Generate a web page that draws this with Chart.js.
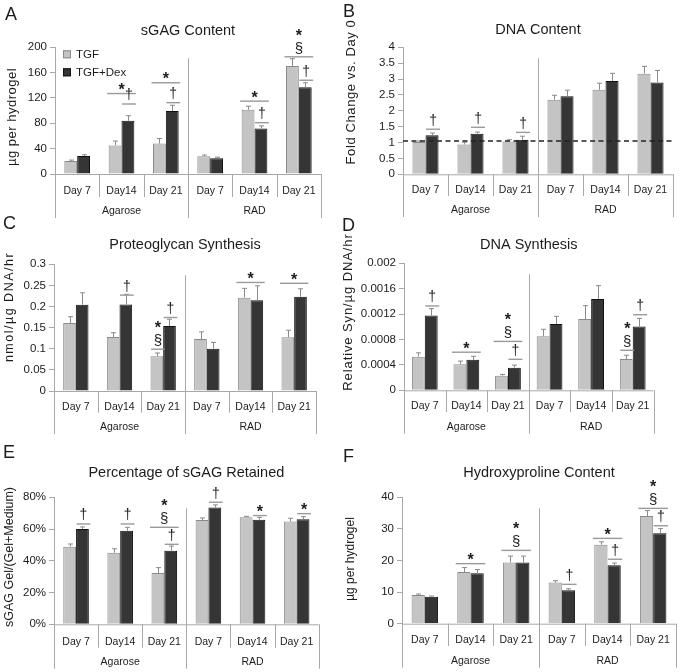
<!DOCTYPE html>
<html lang="en">
<head>
<meta charset="UTF-8">
<title>sGAG, DNA, proteoglycan and hydroxyproline panels</title>
<script src="https://cdn.jsdelivr.net/npm/chart.js"></script>
<style>
  body { margin: 0; background: #fff; }
  #fig { position: relative; width: 680px; height: 672px; }
  #fig canvas { position: absolute; }
</style>
</head>
<body>
<div id="fig">
  <canvas id="cA" width="340" height="220" style="left:0;top:0"></canvas>
  <canvas id="cB" width="340" height="220" style="left:340px;top:0"></canvas>
  <canvas id="cC" width="340" height="235" style="left:0;top:205px"></canvas>
  <canvas id="cD" width="340" height="235" style="left:340px;top:205px"></canvas>
  <canvas id="cE" width="340" height="232" style="left:0;top:440px"></canvas>
  <canvas id="cF" width="340" height="232" style="left:340px;top:440px"></canvas>
</div>
<script>
// categories
const days = ["Day 7", "Day14", "Day 21", "Day 7", "Day14", "Day 21"];
const groups = ["Agarose", "RAD"];
const seriesNames = ["TGF", "TGF+Dex"];

// A - sGAG content (ug per hydrogel)
const sgagTGF = [20.5, 45, 48, 28, 101.5, 170.5];
const sgagDex = [28.4, 84, 99.5, 25, 72, 137];
const sgagErrTGF = [1.5, 7, 8, 2, 5.5, 11.5];
const sgagErrDex = [2, 8, 9, 1.5, 4, 7];
const sgagSig = [[1, "p", 127, ["*"]], [1, "d", 110.5, ["†"]], [2, "p", 144, ["*"]], [2, "d", 112.6, ["†"]],
                 [4, "p", 115, ["*"]], [4, "d", 81, ["†"]], [5, "p", 185, ["§", "*"]], [5, "d", 148, ["†"]]];

// B - DNA content (fold change vs day 0)
const dnaTGF = [1.02, 0.94, 1.03, 2.35, 2.66, 3.17];
const dnaDex = [1.23, 1.28, 1.09, 2.46, 2.94, 2.89];
const dnaErrTGF = [0.03, 0.07, 0.06, 0.14, 0.21, 0.23];
const dnaErrDex = [0.07, 0.05, 0.11, 0.19, 0.24, 0.38];
const dnaSig = [[0, "d", 1.42, ["†"]], [1, "d", 1.48, ["†"]], [2, "d", 1.32, ["†"]]];
const dnaDay0 = 1.05;

// C - proteoglycan synthesis (nmol/ug DNA/hr)
const pgTGF = [0.161, 0.128, 0.082, 0.123, 0.221, 0.127];
const pgDex = [0.2045, 0.205, 0.154, 0.1, 0.215, 0.223];
const pgErrTGF = [0.015, 0.01, 0.008, 0.017, 0.022, 0.017];
const pgErrDex = [0.028, 0.024, 0.016, 0.015, 0.034, 0.019];
const pgSig = [[1, "d", 0.227, ["†"]], [2, "t", 0.099, ["§", "*"]], [2, "d", 0.174, ["†"]],
               [4, "p", 0.257, ["*"]], [5, "p", 0.255, ["*"]]];

// D - DNA synthesis (relative syn/ug DNA/hr)
const dsTGF = [0.00053, 0.00041, 0.00023, 0.00085, 0.001123, 0.000493];
const dsDex = [0.001176, 0.00048, 0.000357, 0.001045, 0.001438, 0.001003];
const dsErrTGF = [0.00006, 0.00005, 0.00002, 0.00011, 0.00021, 0.00006];
const dsErrDex = [0.00011, 0.000055, 0.00004, 0.00012, 0.00021, 0.00013];
const dsSig = [[0, "d", 0.001328, ["†"]], [1, "p", 0.0006, ["*"]], [2, "p", 0.00077, ["§", "*"]],
               [2, "d", 0.000488, ["†"]], [5, "t", 0.00063, ["§", "*"]], [5, "d", 0.00119, ["†"]]];

// E - percentage of sGAG retained
const retTGF = [48.9, 45.1, 32.3, 65.7, 67.4, 64.7];
const retDex = [60.05, 59, 46.4, 73.5, 65.9, 66.1];
const retErrTGF = [1.7, 2.5, 3.4, 1.3, 0.6, 2.1];
const retErrDex = [1.3, 2.1, 2.9, 1.7, 1.5, 1.7];
const retSig = [[0, "d", 63.2, ["†"]], [1, "d", 63.2, ["†"]], [2, "p", 61.1, ["§", "*"]], [2, "d", 50.4, ["†"]],
                [3, "d", 76.9, ["†"]], [4, "d", 68.5, ["*"]], [5, "d", 69.7, ["*"]]];

// F - hydroxyproline content (ug per hydrogel)
const hypTGF = [9.08, 16.36, 19.4, 13, 25, 34.1];
const hypDex = [8.55, 15.94, 19.4, 10.55, 18.5, 28.6];
const hypErrTGF = [0.3, 1.4, 2, 0.6, 0.9, 1.7];
const hypErrDex = [0.2, 1.2, 2, 0.5, 0.7, 1.5];
const hypSig = [[1, "p", 19, ["*"]], [2, "p", 23.2, ["§", "*"]], [3, "d", 12.45, ["†"]], [4, "p", 27, ["*"]],
                [4, "d", 20.4, ["†"]], [5, "p", 36.5, ["§", "*"]], [5, "d", 31, ["†"]]];

const FONT = "'Liberation Sans', Arial, Helvetica, sans-serif";
const TXT = "#1c1c1c";
const AXIS = "#a8a8a8";
const LIGHT = "#c4c4c4", DARK = "#353535";

// box = plot area inside each canvas; yt = [x, y, size, spacing] for the rotated axis title
const panels = [
  { id: "cA", letter: "A", lpos: [5, 20], title: "sGAG Content", yTitle: "µg per hydrogel", yt: [12.5, 117, 13, 0.5],
    max: 200, step: 40, fmt: v => v, tgf: sgagTGF, dex: sgagDex, eT: sgagErrTGF, eD: sgagErrDex, sig: sgagSig,
    box: { left: 55, right: 321, top: 47.3, bottom: 174 }, ttlY: 31, catY: 191, grpY: 211, legend: true },
  { id: "cB", letter: "B", lpos: [3, 17], title: "DNA Content", yTitle: "Fold Change vs. Day 0", yt: [11, 92, 13, 0.6],
    max: 4, step: 0.5, fmt: v => String(v), tgf: dnaTGF, dex: dnaDex, eT: dnaErrTGF, eD: dnaErrDex, sig: dnaSig,
    box: { left: 63, right: 333, top: 47.3, bottom: 174.3 }, ttlY: 30, catY: 190, grpY: 210, refLine: dnaDay0 },
  { id: "cC", letter: "C", lpos: [3, 24], title: "Proteoglycan Synthesis", yTitle: "nmol/µg DNA/hr", yt: [10, 102, 12.5, 1.5],
    max: 0.3, step: 0.05, fmt: v => String(+v.toFixed(2)), tgf: pgTGF, dex: pgDex, eT: pgErrTGF, eD: pgErrDex, sig: pgSig,
    box: { left: 54, right: 316, top: 59.3, bottom: 186 }, ttlY: 40, catY: 201.7, grpY: 222 },
  { id: "cD", letter: "D", lpos: [2, 26], title: "DNA Synthesis", yTitle: "Relative Syn/µg DNA/hr", yt: [8, 107, 13, 0.9],
    max: 0.002, step: 0.0004, fmt: v => String(+v.toFixed(4)), tgf: dsTGF, dex: dsDex, eT: dsErrTGF, eD: dsErrDex, sig: dsSig,
    box: { left: 64, right: 313.5, top: 58.3, bottom: 185.3 }, ttlY: 40, catY: 201, grpY: 221.7, cat: 0.62 },
  { id: "cE", letter: "E", lpos: [3, 18], title: "Percentage of sGAG Retained", yTitle: "sGAG Gel/(Gel+Medium)", yt: [10, 117, 12.5, 0],
    max: 80, step: 20, fmt: v => v + "%", tgf: retTGF, dex: retDex, eT: retErrTGF, eD: retErrDex, sig: retSig,
    box: { left: 54, right: 318.7, top: 57.3, bottom: 184.3 }, ttlY: 33, catY: 201.7, grpY: 221.7 },
  { id: "cF", letter: "F", lpos: [3, 22], title: "Hydroxyproline Content", yTitle: "µg per hydrogel", yt: [11, 119, 12, 0],
    max: 40, step: 10, fmt: v => v, tgf: hypTGF, dex: hypDex, eT: hypErrTGF, eD: hypErrDex, sig: hypSig,
    box: { left: 62, right: 336, top: 57.3, bottom: 183.7 }, ttlY: 33, catY: 200, grpY: 220.7 }
];

const SYM = {
  "*": { font: "bold 16px " + FONT, off: 7 },
  "†": { font: "14px " + FONT, off: 9.5 },
  "§": { font: "15px " + FONT, off: 9 }
};

function line(ctx, x1, y1, x2, y2) {
  ctx.beginPath();
  ctx.moveTo(x1, y1);
  ctx.lineTo(x2, y2);
  ctx.stroke();
}

// draws a glyph so its visible centre lands on (x, cy)
function glyph(ctx, s, x, cy) {
  ctx.font = SYM[s].font;
  let m = ctx.measureText(s);
  ctx.fillText(s, x, cy + (m.actualBoundingBoxAscent - m.actualBoundingBoxDescent) / 2);
}

const figPlugin = {
  id: "fig",
  afterDraw(chart) {
    const p = chart.options.plugins.fig;
    const ctx = chart.ctx;
    const a = chart.chartArea;
    const xs = chart.scales.x, ys = chart.scales.y;
    const y0 = ys.getPixelForValue(0);
    ctx.save();

    // x axis line, category separators, labels
    ctx.strokeStyle = AXIS;
    ctx.lineWidth = 1;
    line(ctx, a.left, y0 + 0.5, a.right, y0 + 0.5);
    const px = days.map((d, i) => xs.getPixelForValue(i));
    const half = (px[1] - px[0]) / 2;
    for (let i = 0; i <= days.length; i++) {
      let bx = i < days.length ? px[i] - half : px[days.length - 1] + half;
      bx = Math.round(bx) + 0.5;
      if (i === 0 || i === 3 || i === days.length) {
        let top = i === 3 ? a.top + 11 : y0;
        line(ctx, bx, top, bx, p.grpY + 7);
      } else {
        line(ctx, bx, y0, bx, p.catY + 6);
      }
    }
    ctx.fillStyle = TXT;
    ctx.textAlign = "center";
    ctx.textBaseline = "middle";
    ctx.font = "10.5px " + FONT;
    days.forEach((d, i) => ctx.fillText(d, px[i], p.catY));
    ctx.fillText(groups[0], px[1], p.grpY);
    ctx.fillText(groups[1], px[4], p.grpY);

    // title, y axis title and panel letter
    ctx.font = "14.5px " + FONT;
    ctx.fillText(p.title, (a.left + a.right) / 2, p.ttlY);
    ctx.save();
    ctx.translate(p.yt[0], p.yt[1]);
    ctx.rotate(-Math.PI / 2);
    ctx.font = p.yt[2] + "px " + FONT;
    if (p.yt[3]) ctx.letterSpacing = p.yt[3] + "px";
    ctx.fillText(p.yTitle, 0, 0);
    ctx.restore();
    ctx.textAlign = "left";
    ctx.textBaseline = "alphabetic";
    ctx.font = "18px " + FONT;
    ctx.fillText(p.letter, p.lpos[0], p.lpos[1]);

    // error bars (upper whisker only)
    const bars = [chart.getDatasetMeta(0).data, chart.getDatasetMeta(1).data];
    const errs = [p.eT, p.eD];
    const vals = [p.tgf, p.dex];
    ctx.strokeStyle = "#8a8a8a";
    ctx.lineWidth = 1;
    bars.forEach((set, s) => set.forEach((b, i) => {
      const yt = ys.getPixelForValue(vals[s][i] + errs[s][i]);
      const x = Math.round(b.x) + 0.5;
      line(ctx, x, b.y, x, yt);
      line(ctx, x - 2.5, yt, x + 2.5, yt);
    }));

    // reference line at day 0 level
    if (p.refLine !== undefined) {
      const yr = ys.getPixelForValue(p.refLine);
      ctx.strokeStyle = "#222";
      ctx.lineWidth = 1.5;
      ctx.setLineDash([5, 3.5]);
      line(ctx, a.left, yr, a.right, yr);
      ctx.setLineDash([]);
    }

    // significance markers
    p.sig.forEach(([c, kind, v, syms]) => {
      const t = bars[0][c], d = bars[1][c];
      let x1, x2;
      if (kind === "p") { x1 = t.x - t.width / 2 - 1.5; x2 = d.x + d.width / 2 + 1.5; }
      else if (kind === "d") { x1 = d.x - d.width / 2 + 0.5; x2 = d.x + d.width / 2 + 1.5; }
      else { x1 = t.x - t.width / 2 + 0.5; x2 = t.x + t.width / 2 + 1.5; }
      const yl = ys.getPixelForValue(v);
      ctx.strokeStyle = "#9a9a9a";
      ctx.lineWidth = 1.4;
      line(ctx, x1, yl, x2, yl);
      ctx.fillStyle = TXT;
      ctx.textAlign = "center";
      ctx.textBaseline = "alphabetic";
      let cy = yl - SYM[syms[0]].off;
      syms.forEach((s, k) => {
        if (k > 0) cy -= 15.5;
        glyph(ctx, s, (x1 + x2) / 2, cy);
      });
    });

    // legend inside panel A
    if (p.legend) {
      const cols = [[LIGHT, "#8a8a8a"], [DARK, "#111"]];
      ctx.font = "11.5px " + FONT;
      ctx.textAlign = "left";
      ctx.textBaseline = "middle";
      seriesNames.forEach((n, k) => {
        const ly = a.top + 3 + k * 18;
        ctx.fillStyle = cols[k][0];
        ctx.fillRect(a.left + 8, ly, 8, 8);
        ctx.strokeStyle = cols[k][1];
        ctx.lineWidth = 1;
        ctx.strokeRect(a.left + 8.5, ly + 0.5, 7, 7);
        ctx.fillStyle = TXT;
        ctx.fillText(n, a.left + 21, ly + 4.5);
      });
    }
    ctx.restore();
  }
};

panels.forEach(p => {
  const el = document.getElementById(p.id);
  const W = el.width, H = el.height;
  const cp = p.cat || 0.58;
  new Chart(el, {
    type: "bar",
    data: {
      labels: days,
      datasets: [
        { label: seriesNames[0], data: p.tgf, backgroundColor: LIGHT, borderColor: "#8a8a8a", borderWidth: 1,
          categoryPercentage: cp, barPercentage: 1 },
        { label: seriesNames[1], data: p.dex, backgroundColor: DARK, borderColor: "#111", borderWidth: 1,
          categoryPercentage: cp, barPercentage: 1 }
      ]
    },
    options: {
      responsive: false,
      animation: false,
      layout: { padding: { left: 0, right: W - p.box.right, top: p.box.top, bottom: H - p.box.bottom } },
      plugins: { legend: { display: false }, tooltip: { enabled: false }, fig: p },
      scales: {
        x: { display: false },
        y: {
          min: 0, max: p.max,
          ticks: { stepSize: p.step, autoSkip: false, callback: p.fmt, color: TXT, padding: 3,
                   font: { family: FONT, size: 11.5 } },
          grid: { drawOnChartArea: false, tickLength: 5, color: AXIS },
          border: { color: AXIS },
          afterFit(s) { s.width = p.box.left; }
        }
      }
    },
    plugins: [figPlugin]
  });
});
</script>
</body>
</html>
